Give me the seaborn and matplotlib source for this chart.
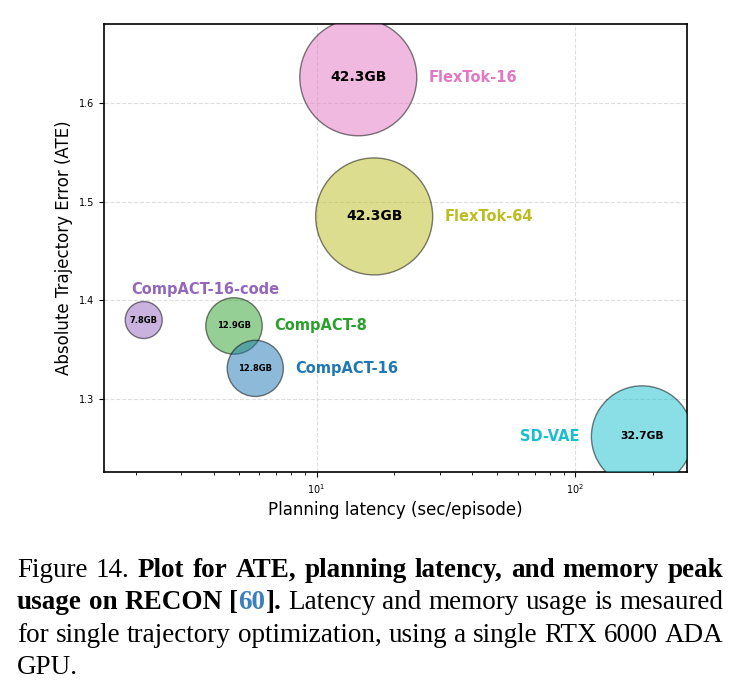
import matplotlib
matplotlib.use("Agg")
import matplotlib.pyplot as plt
import numpy as np
import pandas as pd
import seaborn as sns

methods = ["CompACT-16-code", "CompACT-8", "CompACT-16", "FlexTok-16", "FlexTok-64", "SD-VAE"]
latency = [2.15, 4.8, 5.8, 14.5, 16.7, 181.0]      # sec/episode
ate = [1.380, 1.374, 1.331, 1.626, 1.485, 1.262]
memory_gb = [7.8, 12.9, 12.8, 42.3, 42.3, 32.7]
colors = ["#9467bd", "#2ca02c", "#1f77b4", "#e377c2", "#bcbd22", "#17becf"]

x_ticks = [10, 100]
y_ticks = [1.3, 1.4, 1.5, 1.6]

LINK_BLUE = "#3a7fc0"
caption_lines = [
    [("Figure 14. ", "normal", "black"),
     ("Plot for ATE, planning latency, and memory peak", "bold", "black")],
    [("usage on RECON [", "bold", "black"), ("60", "bold", LINK_BLUE), ("]. ", "bold", "black"),
     ("Latency and memory usage is mesaured", "normal", "black")],
    [("for single trajectory optimization, using a single RTX 6000 ADA", "normal", "black")],
    [("GPU.", "normal", "black")],
]

sns.set_style("ticks", {"axes.grid": True, "grid.linestyle": "--", "grid.color": "0.87",
                        "axes.edgecolor": "black", "text.color": "black",
                        "axes.labelcolor": "black", "xtick.color": "black", "ytick.color": "black"})
plt.rcParams["font.family"] = ["DejaVu Sans"]

W, H, DPI = 741, 695, 100
fig = plt.figure(figsize=(W / DPI, H / DPI), dpi=DPI)
ax = fig.add_axes([104 / W, (H - 472) / H, (687 - 104) / W, (472 - 24) / H])

df = pd.DataFrame({"method": methods, "latency": latency, "ate": ate, "mem": memory_gb})
size_range = (709, 7096)
sns.scatterplot(data=df, x="latency", y="ate", hue="method", size="mem", sizes=size_range,
                palette=dict(zip(methods, colors)), alpha=0.5, edgecolor="black",
                linewidth=1.0, legend=False, ax=ax, zorder=3)
for coll in ax.collections:
    coll.set_clip_on(True)
    coll.set_clip_path(ax.patch)
ax.set_xscale("log")
ax.set_xlim(1.51, 270)
ax.set_ylim(1.226, 1.680)
ax.set_xticks(x_ticks)
ax.set_yticks(y_ticks)
ax.tick_params(axis="both", which="major", labelsize=7, length=3.5, width=0.8)
ax.tick_params(axis="x", which="minor", length=2, width=0.6)
ax.grid(True, which="major", linestyle="--", color="0.87", linewidth=0.8)
ax.grid(False, which="minor")
ax.set_axisbelow(True)
for sp in ax.spines.values():
    sp.set_linewidth(1.2)
    sp.set_color("black")
ax.set_xlabel("Planning latency (sec/episode)", fontsize=12)
ax.set_ylabel("Absolute Trajectory Error (ATE)", fontsize=12)

# annotations: memory inside bubble, method name beside it
mem_min, mem_max = min(memory_gb), max(memory_gb)
for m, xv, yv, mem, c in zip(methods, latency, ate, memory_gb, colors):
    s = np.interp(mem, [mem_min, mem_max], size_range)
    r = np.sqrt(s) / 2
    fs = float(np.clip(mem / 4.2, 6, 10))
    ax.annotate(f"{mem}GB", (xv, yv), ha="center", va="center", fontsize=fs,
                fontweight="bold", color="black", zorder=5)
    if m == "SD-VAE":
        off, ha = (-(r + 8.5), 0), "right"
    elif m == "CompACT-16-code":
        off, ha = (-0.7 * r, r + 9), "left"
    else:
        off, ha = (r + 8.5, 0), "left"
    ax.annotate(m, (xv, yv), xytext=off, textcoords="offset points", ha=ha, va="center",
                fontsize=10.5, fontweight="bold", color=c, zorder=5)


def words_of(segments):
    words = [[]]
    for text, weight, color in segments:
        for j, part in enumerate(text.split(" ")):
            if j > 0:
                words.append([])
            if part:
                words[-1].append((part, weight, color))
    return [w for w in words if w]


renderer = fig.canvas.get_renderer()
left_px, right_px = 17, 723
baselines = [577, 609, 641.5, 673.5]
for i, line in enumerate(caption_lines):
    placed = []
    for word in words_of(line):
        pieces = []
        for text, weight, color in word:
            t = fig.text(0, 0, text, fontsize=19.5, family=["Liberation Serif"],
                         fontweight=weight, color=color, ha="left", va="baseline")
            pieces.append((t, t.get_window_extent(renderer).width))
        placed.append(pieces)
    widths = [sum(w for _, w in p) for p in placed]
    last = i == len(caption_lines) - 1
    gap = 5.0 if last or len(placed) < 2 else (right_px - left_px - sum(widths)) / (len(placed) - 1)
    x = left_px
    for pieces, wsum in zip(placed, widths):
        for t, w in pieces:
            t.set_position((x / W, 1 - baselines[i] / H))
            x += w
        x += gap

fig.savefig("out.png", dpi=DPI)
